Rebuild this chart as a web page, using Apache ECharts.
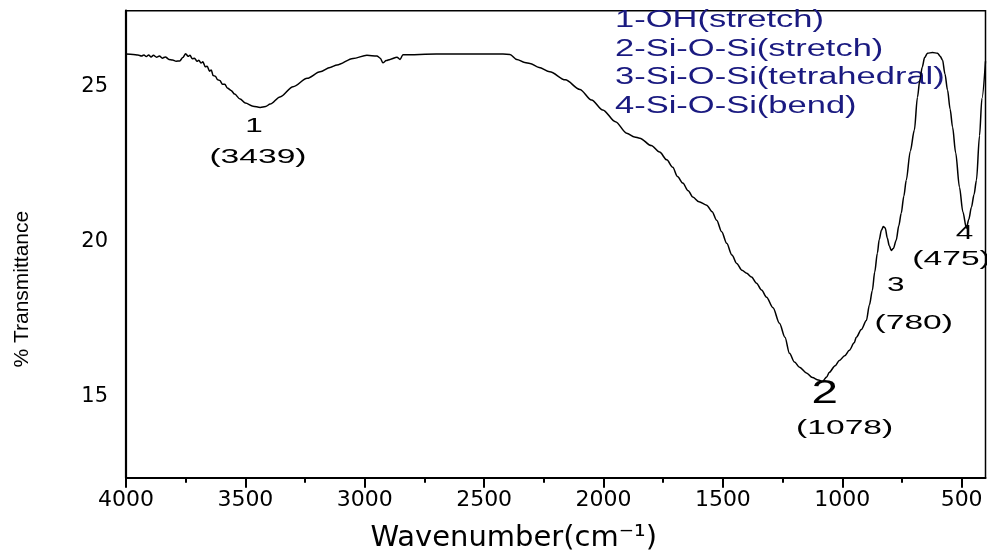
<!DOCTYPE html>
<html><head><meta charset="utf-8">
<script src="https://cdn.jsdelivr.net/npm/echarts@6/dist/echarts.min.js"></script>
<style>html,body{margin:0;padding:0;background:#fff}#chart{width:987px;height:551px}</style>
</head><body><div id="chart"></div>
<script>
// ---- data ----
const wavenumbers = [4000,3970,3950,3935,3925,3915,3905,3895,3885,3872,3860,3848,3835,3820,3805,3790,3775,3762,3750,3740,3732,3722,3713,3703,3695,3686,3678,3668,3660,3650,3643,3635,3626,3616,3607,3596,3586,3576,3560,3545,3522,3500,3468,3438,3415,3396,3355,3300,3241,3187,3145,3116,3049,2991,2949,2935,2924,2910,2894,2865,2852,2840,2700,2550,2421,2392,2363,2330,2308,2270,2225,2160,2099,2050,2003,1950,1903,1870,1848,1800,1765,1735,1710,1690,1668,1645,1626,1600,1568,1545,1526,1505,1484,1462,1442,1420,1400,1380,1359,1338,1317,1290,1263,1240,1221,1200,1179,1150,1125,1100,1083,1065,1054,1030,1012,990,970,950,941,920,899,886,874,864,853,845,836,828,820,811,803,795,786,774,763,753,742,732,715,698,685,675,665,655,643,622,601,590,580,570,559,548,538,525,509,495,480,470,459,448,438,425,415,400];
const transmittance = [26.03,26.02,26.0,25.97,26.0,25.95,26.0,25.94,25.99,25.93,25.97,25.9,25.94,25.86,25.84,25.80,25.81,25.92,26.04,25.96,25.99,25.88,25.9,25.8,25.83,25.74,25.78,25.62,25.64,25.48,25.52,25.34,25.32,25.2,25.18,25.06,25.06,24.94,24.86,24.74,24.58,24.45,24.35,24.31,24.34,24.42,24.65,24.98,25.25,25.46,25.6,25.68,25.89,25.99,25.97,25.9,25.75,25.82,25.86,25.93,25.86,26.01,26.03,26.03,26.03,26.02,25.86,25.76,25.73,25.6,25.46,25.2,24.89,24.55,24.23,23.85,23.48,23.36,23.32,23.08,22.87,22.62,22.38,22.08,21.87,21.62,21.42,21.27,21.16,20.95,20.67,20.3,19.93,19.55,19.28,19.06,18.96,18.84,18.64,18.42,18.19,17.85,17.35,16.9,16.38,16.1,15.93,15.75,15.6,15.52,15.48,15.62,15.77,15.98,16.15,16.3,16.48,16.72,16.9,17.15,17.44,17.95,18.41,19.0,19.61,20.05,20.35,20.47,20.42,20.09,19.85,19.7,19.76,20.03,20.5,20.9,21.45,21.96,22.9,23.58,24.64,25.2,25.61,25.92,26.06,26.08,26.06,25.96,25.84,25.4,24.87,24.25,23.68,22.85,21.74,20.95,20.42,20.7,21.09,21.5,21.96,23.4,24.6,25.8];
const xMajorTicks = [4000,3500,3000,2500,2000,1500,1000,500];
const xMinorTicks = [3750,3250,2750,2250,1750,1250,750];
const yTicks = [15,20,25];
const peakNumbers = ['1','2','3','4'];
const peakWavenumbers = [3439,1078,780,475];
const peakTransmittance = [24.31,15.48,19.70,20.42];
const assignments = ['1-OH(stretch)','2-Si-O-Si(stretch)','3-Si-O-Si(tetrahedral)','4-Si-O-Si(bend)'];

// ---- layout / style (not data) ----
const X_MIN = 400, X_MAX = 4000, Y_MIN = 12.37, Y_MAX = 27.43;
const numLayout = [
  {dx:-6, dy:19, size:21, sx:1.5},
  {dx:1, dy:12, size:34, sx:1.4},
  {dx:1, dy:35, size:21, sx:1.5},
  {dx:-3, dy:5, size:21, sx:1.5}
];
const wnLayout = [
  {dx:-2, dy:50}, {dx:21, dy:47}, {dx:19, dy:73}, {dx:-16, dy:31}
];
const SANS = '"Liberation Sans", Arial, sans-serif';
const WIDE = '"DejaVu Sans", Verdana, sans-serif';
const plain = v => String(v);

const chart = echarts.init(document.getElementById('chart'), null, {renderer:'canvas'});
const seriesData = wavenumbers.map((w, i) => [w, transmittance[i]]);

chart.setOption({
  animation: false,
  backgroundColor: '#fff',
  grid: {left:126, right:1.5, top:10.7, bottom:73.3, show:true, borderColor:'#000', borderWidth:1.5, backgroundColor:'transparent', outerBoundsMode:'none'},
  xAxis: [{
    type:'value', min:X_MIN, max:X_MAX, inverse:true, position:'bottom',
    splitLine:{show:false},
    axisLine:{show:true, onZero:false, lineStyle:{color:'#000', width:2}},
    axisTick:{show:true, customValues:xMajorTicks, length:10, lineStyle:{color:'#000', width:2}},
    axisLabel:{show:true, customValues:xMajorTicks, formatter:plain, color:'#000', fontFamily:WIDE, fontSize:22, margin:12},
    name:'Wavenumber(cm\u207B\u00B9)', nameLocation:'middle', nameGap:46, nameMoveOverlap:false,
    nameTextStyle:{color:'#000', fontFamily:WIDE, fontSize:29, padding:[0,84,0,0]}
  },{
    type:'value', min:X_MIN, max:X_MAX, inverse:true, position:'bottom', gridIndex:0,
    splitLine:{show:false},
    axisLine:{show:false},
    axisTick:{show:true, customValues:xMinorTicks, length:5, lineStyle:{color:'#000', width:2}},
    axisLabel:{show:false}
  }],
  yAxis: {
    type:'value', min:Y_MIN, max:Y_MAX,
    splitLine:{show:false},
    axisLine:{show:true, onZero:false, lineStyle:{color:'#000', width:2.2}},
    axisTick:{show:false},
    axisLabel:{show:true, customValues:yTicks, formatter:plain, color:'#000', fontFamily:WIDE, fontSize:21, margin:18},
    name:'% Transmittance', nameLocation:'middle', nameRotate:90, nameGap:93, nameMoveOverlap:false,
    nameTextStyle:{color:'#000', fontFamily:SANS, fontSize:21, padding:[0,90,0,0]}
  },
  series: [{
    type:'line', xAxisIndex:0, yAxisIndex:0, data:seriesData,
    showSymbol:false, symbol:'none', smooth:0.3, smoothMonotone:'x',
    lineStyle:{color:'#000', width:1.5}, silent:true
  }]
});

const graphics = [];
peakWavenumbers.forEach((w, i) => {
  const p = chart.convertToPixel({xAxisIndex:0, yAxisIndex:0}, [w, peakTransmittance[i]]);
  const nl = numLayout[i], wl = wnLayout[i];
  graphics.push({type:'text', x:p[0]+nl.dx, y:p[1]+nl.dy, scaleX:nl.sx, silent:true,
    style:{text:peakNumbers[i], fill:'#000', fontSize:nl.size, fontFamily:SANS,
      align:'center', verticalAlign:'middle', textAlign:'center', textVerticalAlign:'middle'}});
  graphics.push({type:'text', x:p[0]+wl.dx, y:p[1]+wl.dy, scaleX:1.6, silent:true,
    style:{text:'(' + w + ')', fill:'#000', fontSize:21, fontFamily:SANS,
      align:'center', verticalAlign:'middle', textAlign:'center', textVerticalAlign:'middle'}});
});
assignments.forEach((t, i) => {
  graphics.push({type:'text', x:615, y:21 + i*28.5, scaleX:1.5, silent:true,
    style:{text:t, fill:'#1a1a80', fontSize:23, fontFamily:SANS,
      align:'left', verticalAlign:'middle', textAlign:'left', textVerticalAlign:'middle'}});
});
chart.setOption({graphic: graphics});
</script></body></html>
